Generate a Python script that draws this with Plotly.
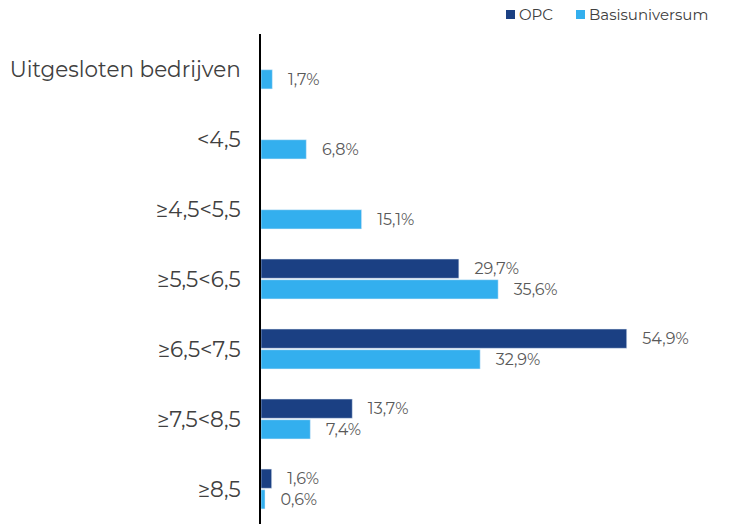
import plotly.graph_objects as go

categories = ["Uitgesloten bedrijven", "<4,5", "≥4,5<5,5", "≥5,5<6,5", "≥6,5<7,5", "≥7,5<8,5", "≥8,5"]
opc = [None, None, None, 29.7, 54.9, 13.7, 1.6]
basis = [1.7, 6.8, 15.1, 35.6, 32.9, 7.4, 0.6]
series_names = ["OPC", "Basisuniversum"]

def fmt(v):
    return "" if v is None else "   " + f"{v:.1f}".replace(".", ",") + "%"

FONT = "Montserrat, Noto Sans, Open Sans, sans-serif"
C_OPC = "#1B4083"
C_BAS = "#33AFEE"

fig = go.Figure()
fig.add_trace(go.Bar(
    y=categories, x=opc, name=series_names[0], orientation="h",
    marker=dict(color=C_OPC),
    text=[fmt(v) for v in opc], textposition="outside",
    textfont=dict(size=16, color="#595959", family=FONT),
    cliponaxis=False,
))
fig.add_trace(go.Bar(
    y=categories, x=basis, name=series_names[1], orientation="h",
    marker=dict(color=C_BAS),
    text=[fmt(v) for v in basis], textposition="outside",
    textfont=dict(size=16, color="#595959", family=FONT),
    cliponaxis=False,
))

# custom legend (square + label)
W = 732 - 261 - 18
H = 525 - 34 - 1
legend_items = [(series_names[0], C_OPC, 506), (series_names[1], C_BAS, 576)]
for name, col, px in legend_items:
    fig.add_shape(type="rect", xref="paper", yref="paper",
                  x0=(px - 261) / W, x1=(px + 9 - 261) / W,
                  y0=1 + (34 - 19) / H, y1=1 + (34 - 10) / H,
                  fillcolor=col, line=dict(width=0))
    fig.add_annotation(xref="paper", yref="paper", x=(px + 11 - 261) / W, y=1 + (34 - 14.5) / H,
                       xanchor="left", yanchor="middle", showarrow=False, text=name,
                       font=dict(size=15, color="#404040", family=FONT))

fig.update_layout(
    width=732, height=525,
    margin=dict(l=261, r=18, t=34, b=1),
    barmode="group", bargap=0.41, bargroupgap=0.07,
    plot_bgcolor="white", paper_bgcolor="white",
    font=dict(family=FONT, color="#404040"),
    showlegend=False,
)
fig.update_xaxes(range=[0, 68], showgrid=False, showticklabels=False, zeroline=False, showline=False,
                 automargin=False)
fig.update_yaxes(autorange="reversed", showgrid=False, showline=True, linecolor="black", linewidth=2,
                 tickfont=dict(size=21.5, color="#404040"), ticks="", ticklabelstandoff=14,
                 automargin=False)

fig.write_html("out.html", config={"displayModeBar": False},
               post_script="document.body.style.margin='0';document.body.style.padding='0';")
